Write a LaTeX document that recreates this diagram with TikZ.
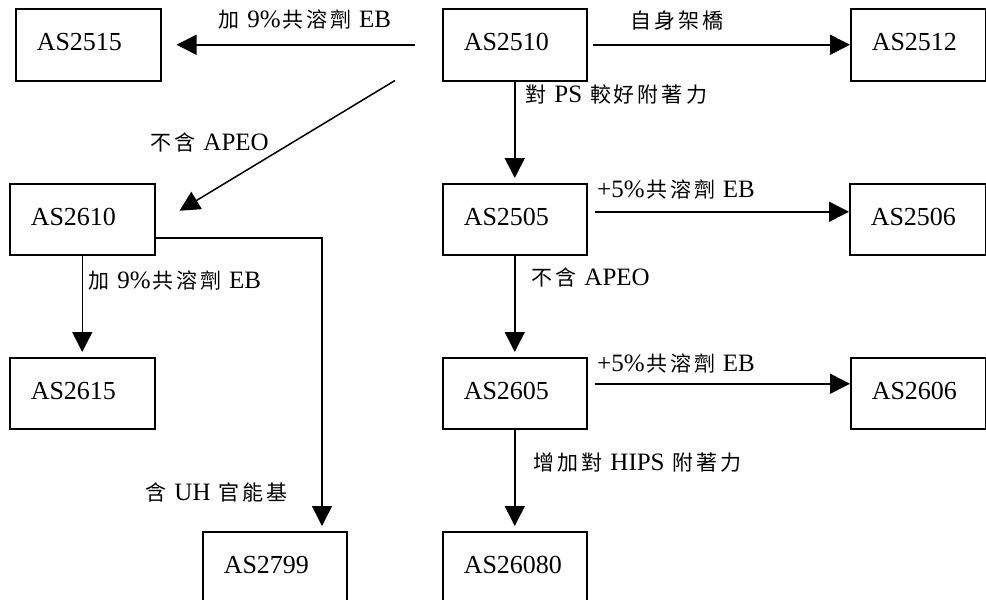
\documentclass[tikz,border=0pt]{standalone}
\usepackage{fontspec}
\setmainfont{Liberation Serif}
\newfontfamily\cjkfont{Noto Sans CJK TC}
\usetikzlibrary{arrows.meta,calc}
\newcommand\zh[1]{\zhloop#1\relax}
\def\zhloop#1{\ifx\relax#1\else\makebox[24pt]{\cjkfont\fontsize{21pt}{21pt}\selectfont#1}\expandafter\zhloop\fi}
\begin{document}
\begin{tikzpicture}[x=1pt,y=-1pt,
  box/.style={draw, line width=1.5pt, anchor=north west, minimum height=72pt,
    inner xsep=21pt, inner ysep=0pt, text width=102pt, align=left,
    text height=18pt, text depth=6pt, font=\fontsize{26pt}{30pt}\selectfont},
  lbl/.style={anchor=base west, inner sep=0pt, font=\fontsize{25pt}{30pt}\selectfont},
  arr/.style={line width=1.5pt, -{Triangle[length=20pt,width=20pt]}}]
\useasboundingbox (0,0) rectangle (986,600);
% boxes
\node[box, text width=103pt] (n2515) at (15,8) {AS2515};
\node[box] (n2510) at (442,8) {AS2510};
\node[box, text width=93pt] (n2512) at (850,8) {AS2512};
\node[box, text width=103pt, minimum height=71pt] (n2610) at (9,183) {AS2610};
\node[box, minimum height=71pt] (n2505) at (442,183) {AS2505};
\node[box, text width=94pt, minimum height=71pt] (n2506) at (849,183) {AS2506};
\node[box, text width=103pt, minimum height=71pt] (n2615) at (9,357) {AS2615};
\node[box, minimum height=71pt] (n2605) at (442,357) {AS2605};
\node[box, text width=93pt, minimum height=71pt] (n2606) at (850,357) {AS2606};
\node[box, minimum height=72pt] (n2799) at (202,531) {AS2799};
\node[box, minimum height=72pt] (n26080) at (442,531) {AS26080};
% connectors
\coordinate (d1) at ($(n2510.south west)+(-47,-1)$);
\coordinate (d2) at ($(n2610.east)+(24,-8.5)$);
\draw[arr] ([xshift=-27pt]n2510.west) -- ([xshift=15pt]n2515.east);
\draw[arr] ([xshift=5pt]n2510.east) -- (n2512.west);
\draw[arr] (d1) -- (d2);
\draw[arr] (n2510.south) -- ([yshift=5pt]n2505.north);
\draw[arr] ([xshift=7pt,yshift=7.5pt]n2505.east) -- ([yshift=7.5pt]n2506.west);
\draw[arr] (n2505.south) -- ([yshift=5pt]n2605.north);
\draw[arr] ([xshift=7pt,yshift=9.5pt]n2605.east) -- ([yshift=9.5pt]n2606.west);
\draw[arr] (n2605.south) -- ([yshift=5pt]n26080.north);
\draw[arr] (n2610.south) -- ([yshift=5pt]n2615.north);
\draw[arr] ([yshift=-18.5pt]n2610.east) -| ([xshift=120pt,yshift=5pt]n2799.north west);
% labels
\node[lbl] (l1) at (217,27) {\zh{加} 9\%\zh{共溶劑} EB};
\node[lbl] (l2) at (629,28) {\zh{自身架橋}};
\node[lbl] (l3) at (524,102) {\zh{對} PS \zh{較好附著力}};
\node[lbl] (l4) at (149,150) {\zh{不含} APEO};
\node[lbl] (l5) at (597,197) {+5\%\zh{共溶劑} EB};
\node[lbl] (l6) at (87,288) {\zh{加} 9\%\zh{共溶劑} EB};
\node[lbl] (l7) at (530,285) {\zh{不含} APEO};
\node[lbl] (l8) at (597,371) {+5\%\zh{共溶劑} EB};
\node[lbl] (l9) at (144,500) {\zh{含} UH \zh{官能基}};
\node[lbl] (l10) at (532,470) {\zh{增加對} HIPS \zh{附著力}};
\end{tikzpicture}
\end{document}
